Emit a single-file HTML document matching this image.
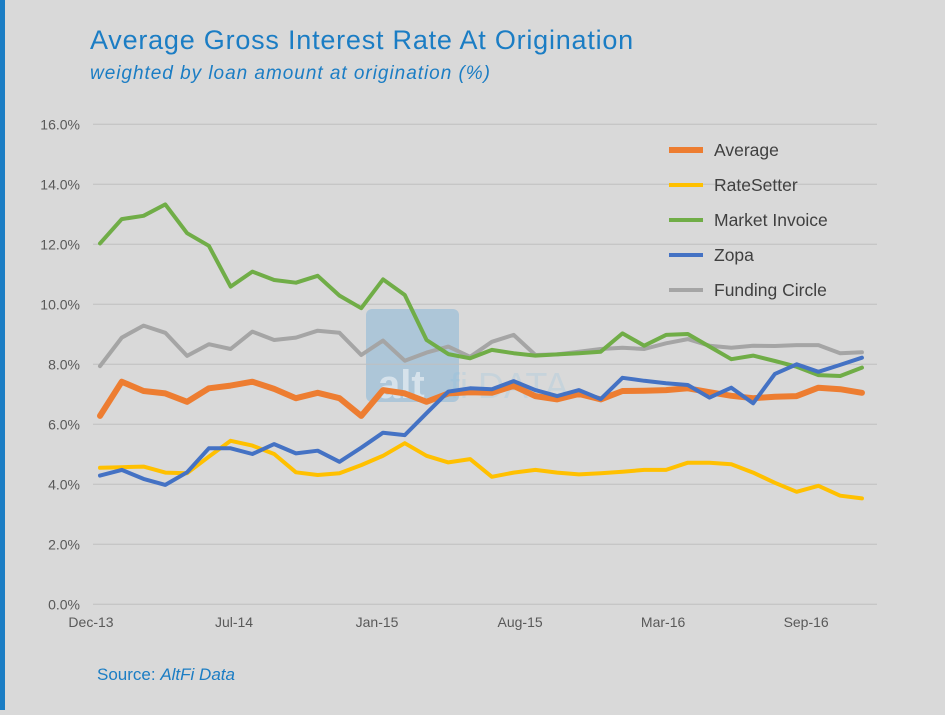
<!DOCTYPE html>
<html><head><meta charset="utf-8"><style>
body{margin:0;width:945px;height:710px;overflow:hidden;background:#d9d9d9;font-family:"Liberation Sans",sans-serif}
</style></head><body>
<svg width="945" height="710" xmlns="http://www.w3.org/2000/svg" id="chart">
<rect x="0" y="0" width="945" height="710" fill="#d9d9d9"/>
<rect x="0" y="0" width="5" height="710" fill="#1b7dc4"/>
<text x="90" y="49" font-size="27" letter-spacing="0.8" textLength="544" fill="#1b7dc4">Average Gross Interest Rate At Origination</text>
<text x="90" y="79" font-size="19" font-style="italic" textLength="400" fill="#1b7dc4">weighted by loan amount at origination (%)</text>
<g>
<rect x="366" y="309" width="93" height="93" rx="6" fill="#4a9cd6" opacity="0.3"/>
<text x="378" y="398" font-size="40" font-weight="bold" fill="#ffffff" opacity="0.5">alt</text>
<text x="450" y="398" font-size="36" fill="#7fbde6" opacity="0.2">fi DATA</text>
</g>
<g id="grid"></g><g id="series"></g>
<text x="97" y="680" font-size="17" fill="#1b7dc4">Source: <tspan font-style="italic">AltFi Data</tspan></text>
</svg>
<script>
const categories = ["Dec-13","Jan-14","Feb-14","Mar-14","Apr-14","May-14","Jun-14","Jul-14","Aug-14","Sep-14","Oct-14","Nov-14","Dec-14","Jan-15","Feb-15","Mar-15","Apr-15","May-15","Jun-15","Jul-15","Aug-15","Sep-15","Oct-15","Nov-15","Dec-15","Jan-16","Feb-16","Mar-16","Apr-16","May-16","Jun-16","Jul-16","Aug-16","Sep-16","Oct-16","Nov-16"];
const tickLabels = ["Dec-13","Jul-14","Jan-15","Aug-15","Mar-16","Sep-16"];
const yTicks = [0,2,4,6,8,10,12,14,16];
const averageVals = [6.28,7.42,7.11,7.03,6.75,7.2,7.29,7.42,7.18,6.87,7.05,6.87,6.28,7.14,7.03,6.75,7.03,7.07,7.05,7.28,6.94,6.83,7.01,6.83,7.11,7.12,7.14,7.2,7.07,6.95,6.87,6.92,6.94,7.22,7.17,7.05];
const rateSetterVals = [4.55,4.57,4.59,4.39,4.37,4.92,5.45,5.29,5.01,4.4,4.31,4.37,4.64,4.95,5.37,4.95,4.73,4.84,4.25,4.39,4.48,4.39,4.33,4.37,4.42,4.48,4.48,4.72,4.72,4.67,4.39,4.05,3.75,3.95,3.62,3.53];
const marketInvoiceVals = [12.03,12.84,12.95,13.33,12.37,11.95,10.59,11.09,10.81,10.72,10.95,10.29,9.87,10.83,10.31,8.81,8.34,8.2,8.48,8.37,8.29,8.33,8.37,8.42,9.03,8.62,8.98,9.01,8.59,8.17,8.29,8.11,7.92,7.64,7.61,7.89];
const zopaVals = [4.29,4.48,4.18,3.98,4.4,5.2,5.2,5.01,5.34,5.03,5.12,4.75,5.22,5.72,5.64,6.37,7.09,7.2,7.17,7.44,7.14,6.94,7.14,6.84,7.55,7.45,7.37,7.31,6.89,7.22,6.7,7.68,8.0,7.75,7.98,8.22];
const fundingCircleVals = [7.94,8.89,9.29,9.05,8.28,8.67,8.51,9.09,8.81,8.89,9.12,9.05,8.31,8.79,8.12,8.39,8.59,8.25,8.75,8.98,8.31,8.33,8.42,8.51,8.55,8.51,8.7,8.84,8.62,8.55,8.62,8.61,8.64,8.64,8.37,8.4];
const seriesNames = ["Average","RateSetter","Market Invoice","Zopa","Funding Circle"];

const NS="http://www.w3.org/2000/svg";
const x0=100, dx=21.77, yZero=604.3, pxPer=30;
function xScale(i){return x0+i*dx;}
function yScale(v){return yZero-v*pxPer;}
function mk(t,a,p){const e=document.createElementNS(NS,t);for(const k in a)e.setAttribute(k,a[k]);p.appendChild(e);return e;}
const grid=document.getElementById('grid');
yTicks.forEach(v=>{
  const l=mk('line',{x1:93,x2:877,y1:yScale(v),y2:yScale(v),stroke:'#bfbfbf','stroke-width':1},grid);
  
  
  const t=mk('text',{x:80,y:yScale(v)+5,'text-anchor':'end','font-size':14,fill:'#595959'},grid);
  t.textContent=v.toFixed(1)+'%';
  
  
});
tickLabels.forEach((lab,k)=>{
  const t=mk('text',{x:xScale(k*6.57)-9,y:627,'text-anchor':'middle','font-size':14,fill:'#595959'},grid);
  t.textContent=lab;
  
  
});
const sg=document.getElementById('series');
const defs=[[fundingCircleVals,'#a5a5a5',4,'funding-circle'],[marketInvoiceVals,'#70ad47',4,'market-invoice'],[rateSetterVals,'#ffc000',4,'ratesetter'],[averageVals,'#ed7d31',6,'average'],[zopaVals,'#4472c4',4,'zopa']];
defs.forEach(d=>{
  const p=mk('polyline',{points:d[0].map((v,i)=>xScale(i)+','+yScale(v)).join(' '),fill:'none',stroke:d[1],'stroke-width':d[2],'stroke-linejoin':'round','stroke-linecap':'round'},sg);
  
  
});
const legCols={"Average":['#ed7d31',6],"RateSetter":['#ffc000',4],"Market Invoice":['#70ad47',4],"Zopa":['#4472c4',4],"Funding Circle":['#a5a5a5',4]};
seriesNames.forEach((n,k)=>{
  const y=150+k*35;
  const g=mk('g',{},sg);
  
  
  mk('line',{x1:669,x2:703,y1:y,y2:y,stroke:legCols[n][0],'stroke-width':legCols[n][1]},g);
  const t=mk('text',{x:714,y:y+6,'font-size':17.5,fill:'#404040'},g);
  t.textContent=n;
});
</script>
</body></html>
